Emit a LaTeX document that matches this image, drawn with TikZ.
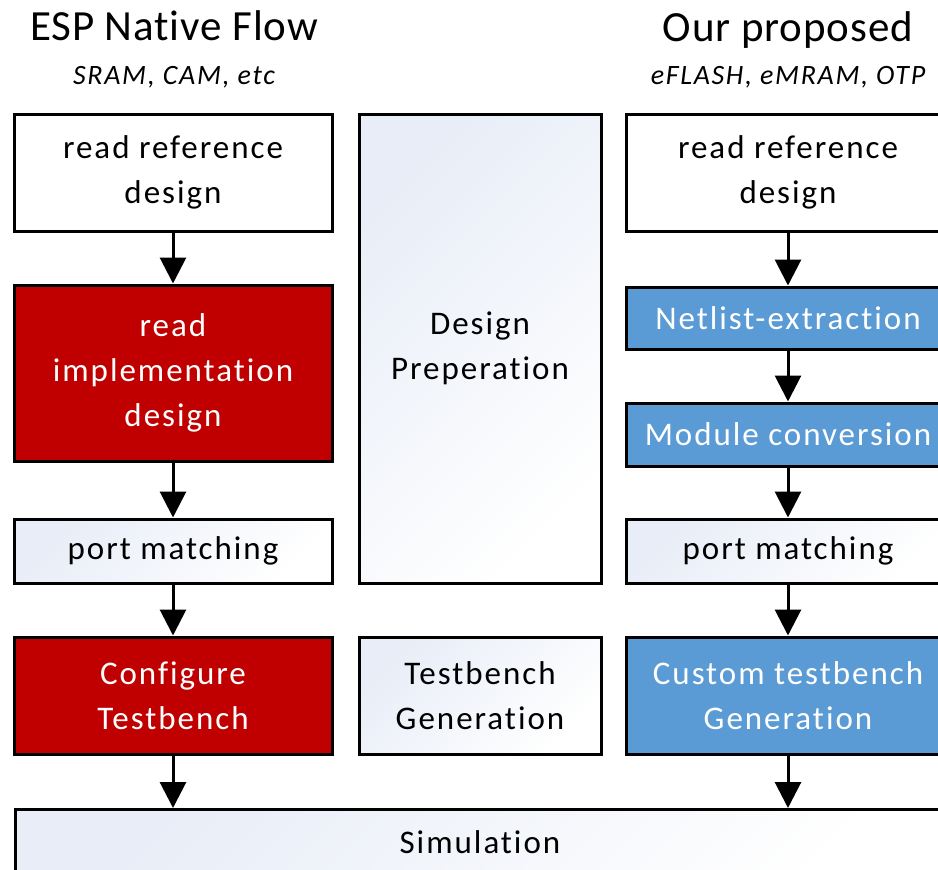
\documentclass[tikz,border=0pt]{standalone}
\usepackage{fontspec}
\setmainfont{Carlito}[LetterSpace=6, Ligatures={NoCommon}]
\newfontfamily\titlefont{Carlito}[LetterSpace=2, Ligatures={NoCommon}]
\usetikzlibrary{arrows.meta}
\definecolor{espred}{HTML}{C00000}
\definecolor{ourblue}{HTML}{5B9BD5}
\definecolor{gradblue}{HTML}{E8EDF7}
\tikzset{
  x=1pt, y=-1pt,
  box/.style={draw=black, line width=3pt, inner sep=2pt, align=center,
    font=\fontsize{33}{45}\selectfont},
  plainbox/.style={box, shading=axis, top color=gradblue, bottom color=white, shading angle=45},
  redbox/.style={box, fill=espred, text=white},
  bluebox/.style={box, fill=ourblue, text=white},
  arr/.style={line width=3pt, -{Triangle[width=26pt,length=26pt]}},
  title/.style={font=\titlefont\fontsize{43}{48}\selectfont},
  subtitle/.style={font=\fontsize{28}{32}\selectfont\itshape},
  lower/.style={text depth=6pt},
}
\begin{document}
\begin{tikzpicture}
\useasboundingbox (0,0) rectangle (938,870);
\clip (0,0) rectangle (938,870);
% titles
\node[title] (t1) at (174,26) {ESP Native Flow};
\node[subtitle] (s1) at (174,77) {SRAM, CAM, etc};
\node[title] (t2) at (788,30) {Our proposed};
\node[subtitle] (s2) at (788,77) {eFLASH, eMRAM, OTP};
% left column
\node[box, fill=white, minimum width=318, minimum height=117] (lref) at (173,172.5) {read reference\\design};
\node[redbox, minimum width=318, minimum height=176] (limpl) at (173,373) {read\\implementation\\design};
\node[plainbox, minimum width=318, minimum height=64] (lport) at (173,551) {port matching};
\node[redbox, minimum width=318, minimum height=117] (lconf) at (173,695.5) {Configure\\Testbench};
% middle column
\node[plainbox, minimum width=242, minimum height=469] (prep) at (480,348.5) {Design\\Preperation};
\node[plainbox, minimum width=242, minimum height=117] (tbgen) at (480,695.5) {Testbench\\Generation};
% right column
\node[box, fill=white, minimum width=324, minimum height=117] (rref) at (788,172.5) {read reference\\design};
\node[bluebox, minimum width=324, minimum height=62] (net) at (788,318) {Netlist-extraction};
\node[bluebox, minimum width=324, minimum height=63] (mod) at (788,434.5) {Module conversion};
\node[plainbox, minimum width=324, minimum height=64] (rport) at (788,551) {port matching};
\node[bluebox, minimum width=324, minimum height=117] (rtb) at (788,695.5) {Custom testbench\\Generation};
% simulation
\node[plainbox, minimum width=940, minimum height=72, anchor=north west] (sim) at (14,808) {};
\node[font=\fontsize{33}{36}\selectfont] (simt) at (480,842) {Simulation};
% arrows
\draw[arr] (lref.south) -- (limpl.north);
\draw[arr] (limpl.south) -- (lport.north);
\draw[arr] (lport.south) -- (lconf.north);
\draw[arr] (lconf.south) -- (lconf.south |- sim.north);
\draw[arr] (rref.south) -- (net.north);
\draw[arr] (net.south) -- (mod.north);
\draw[arr] (mod.south) -- (rport.north);
\draw[arr] (rport.south) -- (rtb.north);
\draw[arr] (rtb.south) -- (rtb.south |- sim.north);
\end{tikzpicture}
\end{document}
